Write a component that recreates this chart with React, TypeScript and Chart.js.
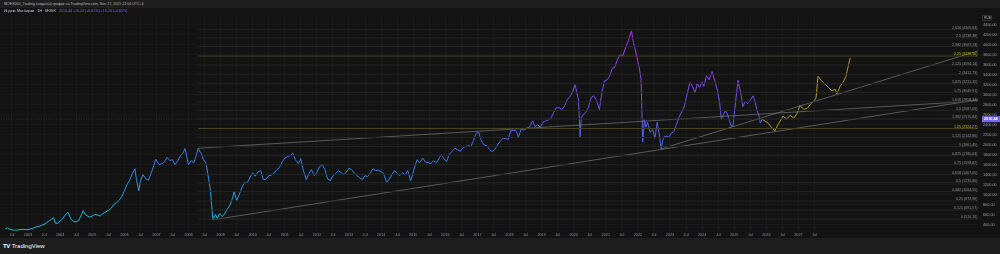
import React, { useEffect, useRef } from 'react';
import { Chart, registerables } from 'chart.js';
Chart.register(...registerables);

const FONT = '"Liberation Sans", Arial, sans-serif';

// ---- axis ranges (decimal years / index points)
const X_MIN = 2002.159;
const X_MAX = 2032.595;
const Y_MIN = 276.9;
const Y_MAX = 4592.6;

const xTickValues: number[] = [
  2002.5, 2003, 2003.5, 2004, 2004.5, 2005, 2005.5, 2006, 2006.5, 2007, 2007.5, 2008, 2008.5,
  2009, 2009.5, 2010, 2010.5, 2011, 2011.5, 2012, 2012.5, 2013, 2013.5, 2014, 2014.5, 2015,
  2015.5, 2016, 2016.5, 2017, 2017.5, 2018, 2018.5, 2019, 2019.5, 2020, 2020.5, 2021, 2021.5,
  2022, 2022.5, 2023, 2023.5, 2024, 2024.5, 2025, 2025.5, 2026, 2026.5, 2027, 2027.5,
];
const midYearLabel = 'Jul';
const yTickValues: number[] = [
  400, 600, 800, 1000, 1200, 1400, 1600, 1800, 2000, 2200, 2400, 2600, 2800, 3000, 3200, 3400,
  3600, 3800, 4000, 4200, 4400,
];

// ---- price history [year, value]
const history2002to2009: [number, number][] = [
  [2002.3, 318], [2002.36, 335], [2002.42, 312], [2002.5, 292], [2002.58, 285], [2002.67, 290],
  [2002.75, 300], [2002.83, 305], [2002.92, 298], [2003.0, 300], [2003.08, 312], [2003.17, 330],
  [2003.25, 352], [2003.33, 362], [2003.42, 382], [2003.5, 405], [2003.58, 440], [2003.67, 480],
  [2003.75, 520], [2003.8, 535], [2003.85, 430], [2003.92, 425], [2004.0, 470], [2004.08, 520],
  [2004.17, 600], [2004.25, 645], [2004.33, 520], [2004.42, 462], [2004.5, 452], [2004.58, 485],
  [2004.67, 600], [2004.72, 680], [2004.8, 590], [2004.92, 550], [2005.0, 572], [2005.08, 600],
  [2005.17, 590], [2005.25, 572], [2005.33, 620], [2005.42, 652], [2005.5, 682], [2005.58, 720],
  [2005.67, 800], [2005.75, 840], [2005.83, 880], [2005.92, 960], [2006.0, 1070], [2006.08, 1200],
  [2006.17, 1290], [2006.25, 1420], [2006.33, 1520], [2006.38, 1300], [2006.45, 1080], [2006.5, 1260],
  [2006.58, 1400], [2006.67, 1320], [2006.75, 1290], [2006.83, 1420], [2006.92, 1580], [2006.98, 1710],
  [2007.08, 1600], [2007.17, 1620], [2007.25, 1650], [2007.33, 1750], [2007.42, 1680], [2007.5, 1700],
  [2007.58, 1600], [2007.67, 1680], [2007.75, 1780], [2007.83, 1830], [2007.89, 1925], [2007.95, 1750],
  [2008.0, 1600], [2008.08, 1680], [2008.17, 1640], [2008.25, 1800], [2008.3, 1929], [2008.4, 1820],
  [2008.47, 1700], [2008.55, 1620], [2008.62, 1350], [2008.68, 1100], [2008.72, 800], [2008.76, 495],
  [2008.84, 600], [2008.9, 520], [2008.96, 620], [2009.05, 560], [2009.12, 610], [2009.2, 700],
  [2009.3, 800], [2009.38, 950], [2009.42, 1070], [2009.5, 880], [2009.58, 1000], [2009.67, 1150],
  [2009.75, 1250], [2009.83, 1240], [2009.92, 1350],
];
const history2010to2019: [number, number][] = [
  [2010.0, 1440], [2010.08, 1370], [2010.17, 1460], [2010.25, 1480], [2010.33, 1300], [2010.42, 1310],
  [2010.5, 1380], [2010.58, 1390], [2010.67, 1430], [2010.75, 1500], [2010.83, 1540], [2010.92, 1660],
  [2011.0, 1730], [2011.08, 1760], [2011.17, 1780], [2011.25, 1830], [2011.33, 1700], [2011.42, 1620],
  [2011.5, 1720], [2011.58, 1480], [2011.67, 1300], [2011.75, 1420], [2011.83, 1500], [2011.92, 1380],
  [2012.0, 1450], [2012.08, 1560], [2012.17, 1600], [2012.25, 1500], [2012.33, 1320], [2012.42, 1280],
  [2012.5, 1380], [2012.58, 1420], [2012.67, 1480], [2012.75, 1440], [2012.83, 1400], [2012.92, 1450],
  [2013.0, 1530], [2013.08, 1500], [2013.17, 1430], [2013.25, 1380], [2013.33, 1340], [2013.42, 1300],
  [2013.5, 1380], [2013.58, 1360], [2013.67, 1440], [2013.75, 1520], [2013.83, 1480], [2013.92, 1490],
  [2014.0, 1460], [2014.08, 1420], [2014.17, 1250], [2014.25, 1300], [2014.33, 1400], [2014.42, 1480],
  [2014.5, 1420], [2014.58, 1380], [2014.67, 1440], [2014.75, 1390], [2014.83, 1480], [2014.92, 1280],
  [2014.98, 1400], [2015.05, 1560], [2015.12, 1700], [2015.2, 1640], [2015.3, 1730], [2015.38, 1650],
  [2015.47, 1640], [2015.55, 1620], [2015.63, 1680], [2015.72, 1640], [2015.8, 1720], [2015.88, 1800],
  [2015.96, 1720], [2016.04, 1660], [2016.12, 1800], [2016.2, 1860], [2016.3, 1930], [2016.38, 1900],
  [2016.47, 1870], [2016.55, 1940], [2016.63, 1960], [2016.72, 1980], [2016.8, 1960], [2016.88, 2090],
  [2016.96, 2230], [2017.04, 2250], [2017.12, 2080], [2017.2, 2000], [2017.3, 1980], [2017.38, 1900],
  [2017.46, 1860], [2017.55, 1910], [2017.63, 2000], [2017.72, 2080], [2017.8, 2130], [2017.88, 2120],
  [2017.96, 2110], [2018.04, 2280], [2018.12, 2290], [2018.2, 2280], [2018.28, 2150], [2018.36, 2310],
  [2018.45, 2290], [2018.53, 2330], [2018.62, 2350], [2018.72, 2480], [2018.8, 2360], [2018.88, 2400],
  [2018.96, 2350], [2019.04, 2450], [2019.12, 2470], [2019.2, 2490], [2019.3, 2540], [2019.38, 2650],
  [2019.46, 2740], [2019.55, 2740], [2019.63, 2700], [2019.72, 2780], [2019.8, 2900], [2019.88, 2960],
  [2019.96, 3050],
];
const history2020to2025: [number, number][] = [
  [2020.04, 3200], [2020.1, 3050], [2020.15, 2900], [2020.2, 2150], [2020.24, 2550], [2020.3, 2600],
  [2020.38, 2650], [2020.46, 2750], [2020.55, 2950], [2020.63, 2980], [2020.72, 2870], [2020.8, 2700],
  [2020.88, 3050], [2020.96, 3280], [2021.04, 3300], [2021.12, 3370], [2021.2, 3530], [2021.28, 3550],
  [2021.36, 3700], [2021.45, 3800], [2021.53, 3780], [2021.62, 3950], [2021.7, 4080], [2021.8, 4280],
  [2021.86, 4050], [2021.92, 3900], [2021.97, 3750], [2022.04, 3550], [2022.1, 3300], [2022.15, 2050],
  [2022.2, 2500], [2022.25, 2350], [2022.3, 2450], [2022.38, 2250], [2022.46, 2300], [2022.53, 2130],
  [2022.6, 2450], [2022.68, 2150], [2022.72, 1920], [2022.8, 2150], [2022.88, 2170], [2022.96, 2150],
  [2023.04, 2230], [2023.12, 2260], [2023.2, 2400], [2023.28, 2550], [2023.36, 2650], [2023.45, 2780],
  [2023.53, 3000], [2023.62, 3250], [2023.7, 3170], [2023.78, 3040], [2023.85, 3220], [2023.92, 3150],
  [2024.0, 3260], [2024.05, 3170], [2024.14, 3380], [2024.22, 3300], [2024.31, 3465], [2024.4, 3270],
  [2024.48, 3080], [2024.55, 2820], [2024.6, 2510], [2024.72, 2680], [2024.78, 2630], [2024.9, 2380],
  [2024.96, 2376], [2025.02, 2726], [2025.12, 3290], [2025.21, 3018], [2025.27, 2765], [2025.34, 2862],
  [2025.43, 2823], [2025.49, 2882], [2025.59, 2979], [2025.65, 2862], [2025.71, 2687], [2025.77, 2590],
  [2025.81, 2435], [2025.87, 2510],
];
const projection: [number, number][] = [
  [2025.87, 2510], [2025.96, 2474], [2026.05, 2435], [2026.15, 2357], [2026.27, 2279], [2026.36, 2396],
  [2026.52, 2571], [2026.64, 2513], [2026.74, 2590], [2026.86, 2532], [2026.96, 2629], [2027.05, 2785],
  [2027.17, 2707], [2027.27, 2726], [2027.39, 2823], [2027.49, 2882], [2027.55, 2940], [2027.61, 3368],
  [2027.74, 3270], [2027.83, 3212], [2027.95, 3134], [2028.05, 3076], [2028.14, 3115], [2028.2, 3018],
  [2028.3, 3173], [2028.39, 3251], [2028.48, 3368], [2028.61, 3737],
];

// ---- Fibonacci extension
const fibStartYear = 2008.3;
const fibLevels: number[] = [
  0, 0.125, 0.25, 0.382, 0.5, 0.618, 0.75, 0.875, 1, 1.125, 1.25, 1.382, 1.5, 1.618, 1.75, 1.875,
  2, 2.125, 2.25, 2.382, 2.5, 2.618,
];
const fibPrices: number[] = [
  510.16, 691.57, 872.98, 1064.55, 1235.8, 1407.05, 1598.62, 1780.03, 1961.45, 2142.86, 2324.27,
  2515.84, 2687.09, 2858.34, 3049.91, 3231.32, 3412.73, 3594.14, 3775.56, 3967.13, 4138.38, 4309.63,
];
const fibHighlighted: number[] = [1.25, 2.25];

// ---- trend lines [[x1,y1],[x2,y2]]
const trendLines: [number, number][][] = [
  [[2008.3, 1929], [X_MAX, 2877]],
  [[2008.76, 495], [X_MAX, 2900]],
  [[2022.72, 1915], [X_MAX, 3880]],
];

const lastPrice = 2510.44;
const lastPriceLabel = '2510,44';
const headerText = 'MOEX000_Trading создал(а) график на TradingView.com, Nov 17, 2025 22:00 UTC+3';
const legendName = 'Индекс Мосбиржи · 1Н · MOEX';
const legendValues = '2510,44  +15,24 (+0,61%)  +15,24 (+0,61%)';

const fmt = (n: number) => n.toFixed(2).replace('.', ',');
const fmtLevel = (n: number) => String(n).replace('.', ',');

export default function App() {
  const ref = useRef<HTMLCanvasElement | null>(null);

  useEffect(() => {
    document.body.style.margin = '0';
    document.body.style.background = '#1e1e1e';
    const canvas = ref.current;
    if (!canvas) return;

    const allHistory = [...history2002to2009, ...history2010to2019, ...history2020to2025];

    const gradientColor = (ctx: any) => {
      const chart = ctx.chart;
      const ys = chart.scales && chart.scales.y;
      if (!chart.chartArea || !ys) return '#3f6ff0';
      const g = chart.ctx.createLinearGradient(0, ys.getPixelForValue(300), 0, ys.getPixelForValue(4300));
      g.addColorStop(0, '#1ec4de');
      g.addColorStop(0.17, '#289ee8');
      g.addColorStop(0.4, '#3e70f0');
      g.addColorStop(0.55, '#5a5cf0');
      g.addColorStop(0.72, '#8248f2');
      g.addColorStop(1, '#bc2cff');
      return g;
    };

    const datasets: any[] = [];
    fibLevels.forEach((lvl, i) => {
      const hi = fibHighlighted.includes(lvl);
      datasets.push({
        data: [{ x: fibStartYear, y: fibPrices[i] }, { x: X_MAX, y: fibPrices[i] }],
        borderColor: hi ? '#46431d' : '#252525',
        borderWidth: 1,
        pointRadius: 0,
      });
    });
    trendLines.forEach((ln) => {
      datasets.push({
        data: ln.map(([x, y]) => ({ x, y })),
        borderColor: '#787878',
        borderWidth: 0.7,
        pointRadius: 0,
      });
    });
    datasets.push({
      data: projection.map(([x, y]) => ({ x, y })),
      borderColor: '#ad9f2a',
      borderWidth: 1,
      pointRadius: 0,
    });
    datasets.push({
      data: allHistory.map(([x, y]) => ({ x, y })),
      borderColor: gradientColor,
      borderWidth: 1,
      pointRadius: 0,
    });

    const overlay = {
      id: 'overlay',
      beforeDatasetsDraw(chart: any) {
        const { ctx, chartArea, scales } = chart;
        const py = scales.y.getPixelForValue(lastPrice);
        ctx.save();
        ctx.strokeStyle = 'rgba(123,108,246,0.45)';
        ctx.lineWidth = 0.6;
        ctx.setLineDash([1, 1.5]);
        ctx.beginPath();
        ctx.moveTo(chartArea.left, py);
        ctx.lineTo(chartArea.right, py);
        ctx.stroke();
        ctx.restore();
      },
      afterDatasetsDraw(chart: any) {
        const { ctx, chartArea, scales } = chart;
        ctx.save();
        ctx.font = `3.6px ${FONT}`;
        ctx.textAlign = 'right';
        ctx.textBaseline = 'alphabetic';
        fibLevels.forEach((lvl, i) => {
          const y = scales.y.getPixelForValue(fibPrices[i]);
          ctx.fillStyle = fibHighlighted.includes(lvl) ? '#c9bf2c' : '#959595';
          ctx.fillText(`${fmtLevel(lvl)} (${fmt(fibPrices[i])})`, chartArea.right - 0.5, y - 0.6);
        });
        ctx.restore();
      },
      afterDraw(chart: any) {
        const { ctx, chartArea, scales } = chart;
        const py = scales.y.getPixelForValue(lastPrice);
        ctx.save();
        ctx.fillStyle = '#7466f0';
        ctx.fillRect(chartArea.right + 4, py - 3, 18, 6);
        ctx.fillStyle = '#ffffff';
        ctx.font = `bold 3.8px ${FONT}`;
        ctx.textAlign = 'left';
        ctx.textBaseline = 'middle';
        ctx.fillText(lastPriceLabel, chartArea.right + 6, py + 0.2);
        ctx.strokeStyle = '#4a4a4a';
        ctx.lineWidth = 0.6;
        ctx.strokeRect(chartArea.right + 4.5, chartArea.top + 0.5, 9, 4.6);
        ctx.fillStyle = '#b8b8b8';
        ctx.font = `3px ${FONT}`;
        ctx.fillText('RUB', chartArea.right + 6.3, chartArea.top + 2.9);
        ctx.restore();
      },
    };

    const chart = new Chart(canvas, {
      type: 'line',
      data: { datasets },
      options: {
        animation: false,
        responsive: false,
        maintainAspectRatio: false,
        parsing: false as any,
        normalized: true,
        layout: { padding: { left: 1, top: 1, right: 0, bottom: 0 } },
        plugins: { legend: { display: false }, tooltip: { enabled: false } },
        elements: { line: { tension: 0 } },
        scales: {
          x: {
            type: 'linear',
            min: X_MIN,
            max: X_MAX,
            position: 'bottom',
            afterFit: (s: any) => { s.height = 7; },
            afterBuildTicks: (s: any) => { s.ticks = xTickValues.map((v) => ({ value: v })); },
            border: { display: false },
            grid: { color: '#1a1a1a', lineWidth: 1, drawTicks: false },
            ticks: {
              autoSkip: false,
              maxRotation: 0,
              padding: 2,
              color: '#8f929a',
              font: { size: 3.8, family: FONT },
              callback: (v: any) => (Number.isInteger(Number(v)) ? String(v) : midYearLabel),
            },
          },
          y: {
            type: 'linear',
            position: 'right',
            min: Y_MIN,
            max: Y_MAX,
            afterFit: (s: any) => { s.width = 22; },
            afterBuildTicks: (s: any) => { s.ticks = yTickValues.map((v) => ({ value: v })); },
            border: { display: false },
            grid: { color: '#1a1a1a', lineWidth: 1, drawTicks: false },
            ticks: {
              padding: 5,
              color: '#9a9da5',
              font: { size: 3.8, family: FONT },
              callback: (v: any) => fmt(Number(v)),
            },
          },
        },
      },
      plugins: [overlay],
    });
    return () => chart.destroy();
  }, []);

  return (
    <div style={{ position: 'fixed', left: 0, top: 0, width: 1000, height: 254, background: '#1e1e1e', overflow: 'hidden', fontFamily: FONT }}>
      <div style={{ position: 'absolute', left: 4, top: 1.5, fontSize: 3.6, lineHeight: '4px', color: '#b8b8b8', whiteSpace: 'nowrap' }}>
        {headerText}
      </div>
      <div style={{ position: 'absolute', left: 0, top: 8, width: 1000, height: 230, background: '#131313' }}>
        <canvas ref={ref} width={1000} height={230} style={{ display: 'block', width: 1000, height: 230 }} />
        <div style={{ position: 'absolute', left: 4, top: 1, fontSize: 3.6, lineHeight: '4px', whiteSpace: 'nowrap' }}>
          <span style={{ color: '#c9ccd4' }}>{legendName}</span>
          <span style={{ color: '#7b6cf6', marginLeft: 3 }}>{legendValues}</span>
        </div>
      </div>
      <div style={{ position: 'absolute', left: 3, top: 243, fontSize: 6, lineHeight: '7px', color: '#ffffff', whiteSpace: 'nowrap' }}>
        <span style={{ fontWeight: 900, letterSpacing: -0.5 }}>TV</span>
        <span style={{ marginLeft: 2 }}>TradingView</span>
      </div>
    </div>
  );
}
